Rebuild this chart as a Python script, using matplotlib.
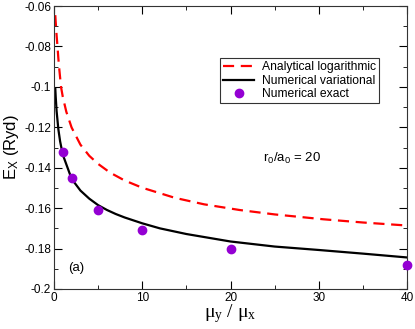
import matplotlib
matplotlib.use("Agg")
import matplotlib.pyplot as plt
from matplotlib.ticker import MultipleLocator

plt.rcParams['font.family'] = ['Liberation Sans', 'DejaVu Sans']

# values
ratio_log = [0.15, 0.2, 0.3, 0.4, 0.5, 0.6, 0.8, 1, 1.4, 2, 3, 4, 5, 6.35, 8, 10, 13.7, 17, 21,
             25, 30.5, 35, 40]
e_log = [-0.0645, -0.068, -0.0745, -0.080, -0.086, -0.091, -0.100, -0.1049, -0.1123, -0.1201,
         -0.1286, -0.1341, -0.1381, -0.1424, -0.1463, -0.1499, -0.1549, -0.1581, -0.1609,
         -0.1631, -0.1655, -0.1671, -0.1686]

ratio_var = [0.15, 0.2, 0.3, 0.5, 0.7, 1, 1.5, 2, 3, 4, 5, 6, 7, 8, 10, 12, 15, 20, 25, 30, 35, 40]
e_var = [-0.1007, -0.105, -0.112, -0.121, -0.127, -0.1335, -0.1395, -0.1455, -0.1513, -0.1553,
         -0.1585, -0.1609, -0.1629, -0.1646, -0.1675, -0.170, -0.1728, -0.1765, -0.179, -0.1807,
         -0.1825, -0.1844]

ratio_exact = [1, 2, 5, 10, 20, 40]
e_exact = [-0.132, -0.1453, -0.161, -0.171, -0.180, -0.188]

fig = plt.figure(figsize=(4.15, 3.29), dpi=100)
ax = fig.add_axes([0.130, 0.1216, 0.851, 0.860])

ax.plot(ratio_log, e_log, color='red', ls=(0, (5, 3)), lw=1.6, label='Analytical logarithmic')
ax.plot(ratio_var, e_var, color='black', lw=1.6, label='Numerical variational')
ax.plot(ratio_exact, e_exact, 'o', color='#9400d3', ms=6, mec='#9400d3',
        label='Numerical exact', clip_on=False, zorder=5)

ax.set_xlim(0, 40)
ax.set_ylim(-0.2, -0.06)
ax.xaxis.set_major_locator(MultipleLocator(10))
ax.xaxis.set_minor_locator(MultipleLocator(5))
ax.set_yticks([-0.2, -0.18, -0.16, -0.14, -0.12, -0.1, -0.08, -0.06])
ax.set_yticklabels(['-0.2', '-0.18', '-0.16', '-0.14', '-0.12', '-0.1', '-0.08', '-0.06'])
ax.yaxis.set_minor_locator(MultipleLocator(0.01))
ax.tick_params(which='both', direction='in', top=True, right=True, labelsize=8.5, pad=2)
ax.tick_params(which='major', length=6)
ax.tick_params(which='minor', length=3)
for sp in ax.spines.values():
    sp.set_color('#333333')

ax.set_xlabel(r'$\mathregular{\mu_y}$ / $\mathregular{\mu_x}$', fontsize=14, labelpad=-1,
              family=['Liberation Serif', 'DejaVu Serif'])
ax.set_ylabel(r'$\mathregular{E_X}$ (Ryd)', fontsize=12, labelpad=2)

ax.text(0.592, 0.45, r'$\mathregular{r_0/a_0}$ = 20', transform=ax.transAxes, fontsize=9.5)
ax.text(0.04, 0.065, '(a)', transform=ax.transAxes, fontsize=9.5)

leg = ax.legend(loc='upper left', bbox_to_anchor=(0.47, 0.815), fontsize=8.7,
                frameon=True, fancybox=False, edgecolor='black', handlelength=2.6,
                borderpad=0.25, labelspacing=0.12, handletextpad=0.6, borderaxespad=0)
leg.get_frame().set_linewidth(0.8)

fig.savefig('out.png', dpi=100)
